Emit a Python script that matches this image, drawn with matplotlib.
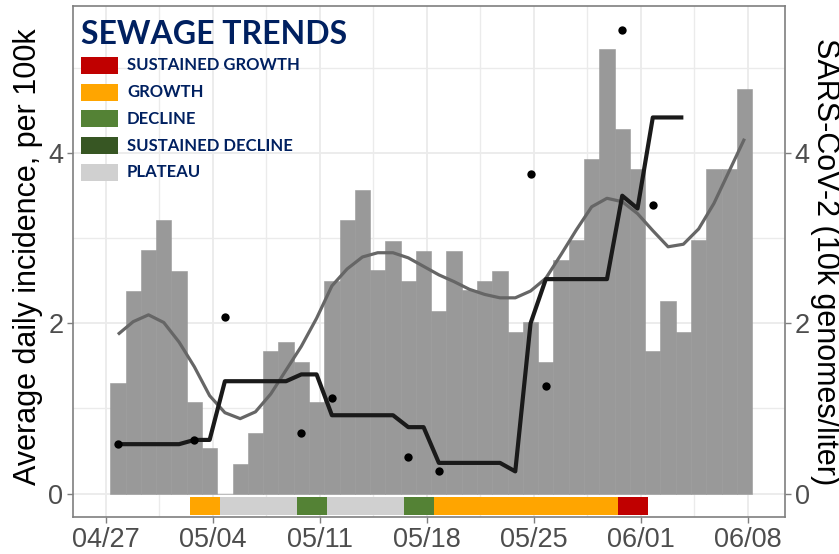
import matplotlib
matplotlib.use("Agg")
import matplotlib.pyplot as plt
import matplotlib.dates as mdates
from matplotlib.patches import Rectangle
import pandas as pd

plt.rcParams["font.family"] = ["Liberation Sans", "DejaVu Sans"]

# --- dados
start_date = "2021-04-27"
tick_dates = ["2021-04-27", "2021-05-04", "2021-05-11", "2021-05-18",
              "2021-05-25", "2021-06-01", "2021-06-08"]

# incidência média diária por 100k (barras)
incidence = [1.30, 2.38, 2.86, 3.21, 2.62, 1.07, 0.53,
             0.00, 0.35, 0.71, 1.67, 1.78, 1.55, 1.07,
             2.50, 3.21, 3.57, 2.63, 2.97, 2.50, 2.85,
             2.14, 2.85, 2.39, 2.50, 2.61, 1.90, 2.02,
             1.55, 2.74, 2.98, 3.93, 5.23, 4.28, 3.81,
             1.67, 2.26, 1.90, 2.98, 3.81, 3.81, 4.76]

# curva suavizada da incidência
incidence_smooth = [1.87, 2.02, 2.10, 2.01, 1.78, 1.49, 1.15, 0.95, 0.88, 0.96,
                    1.17, 1.45, 1.73, 2.06, 2.44, 2.64, 2.78, 2.83, 2.83, 2.77,
                    2.67, 2.57, 2.49, 2.40, 2.34, 2.30, 2.30, 2.38, 2.53, 2.81,
                    3.10, 3.37, 3.47, 3.43, 3.29, 3.09, 2.90, 2.93, 3.11, 3.41,
                    3.79, 4.17]

# amostras de esgoto (pontos): dia desde o início, valor
sample_days = [0, 5, 7, 12, 14, 19, 21, 27, 28, 33, 35]
sample_values = [0.58, 0.63, 2.08, 0.71, 1.12, 0.43, 0.27, 3.75, 1.26, 5.45, 3.39]

# média móvel do esgoto (linha preta), um valor por dia
sewage_avg = [0.58, 0.58, 0.58, 0.58, 0.58, 0.63, 0.63,
              1.32, 1.32, 1.32, 1.32, 1.32, 1.40, 1.40,
              0.92, 0.92, 0.92, 0.92, 0.92, 0.78, 0.78,
              0.36, 0.36, 0.36, 0.36, 0.36, 0.26, 2.00,
              2.52, 2.52, 2.52, 2.52, 2.52, 3.50, 3.35,
              4.42, 4.42, 4.42]

# tendências do esgoto, a partir do dia 5
trend_start_day = 5
trend = (["GROWTH"] * 2 + ["PLATEAU"] * 5 + ["DECLINE"] * 2 + ["PLATEAU"] * 5
         + ["DECLINE"] * 2 + ["GROWTH"] * 12 + ["SUSTAINED GROWTH"] * 2)

trend_labels = ["SUSTAINED GROWTH", "GROWTH", "DECLINE", "SUSTAINED DECLINE", "PLATEAU"]
trend_colors = ["#C00000", "#FFA500", "#548235", "#375623", "#D0D0D0"]
cores = dict(zip(trend_labels, trend_colors))

# --- posições no eixo x
x0 = mdates.date2num(pd.Timestamp(start_date))
offset = 0.8
dias = pd.date_range(start_date, periods=len(incidence), freq="D")
x_bar = mdates.date2num(dias) + offset
x_avg = x_bar[:len(sewage_avg)]
x_pts = [x0 + d + offset for d in sample_days]
x_trend = [x0 + trend_start_day + i + 1.0 for i in range(len(trend))]

fig = plt.figure(figsize=(8.39, 5.54), dpi=100)
ax = fig.add_axes([73 / 839, 37 / 554, 712 / 839, 511 / 554])

ax.bar(x_bar, incidence, width=1.0, color="#999999", edgecolor="#999999",
       linewidth=0.4, zorder=2)
ax.plot(x_bar, incidence_smooth, color="#666666", lw=2.3, zorder=3,
        solid_capstyle="butt")
ax.plot(x_avg, sewage_avg, color="#1A1A1A", lw=3.0, zorder=4,
        solid_capstyle="butt")
ax.scatter(x_pts, sample_values, s=36, color="black", zorder=5, linewidths=0)

# faixa de tendência abaixo das barras
ax.bar(x_trend, [-0.21] * len(trend), bottom=-0.04, width=1.0,
       color=[cores[t] for t in trend], linewidth=0, zorder=2)

ticks = mdates.date2num(pd.to_datetime(tick_dates))
ax.set_xticks(ticks)
ax.set_xticks([t + 3.5 for t in ticks[:-1]] + [ticks[0] - 3.5, ticks[-1] + 3.5], minor=True)
ax.xaxis.set_major_formatter(mdates.DateFormatter("%m/%d"))
ax.set_yticks([0, 2, 4])
ax.set_yticks([1, 3, 5], minor=True)

ax.set_xlim(x0 - 2.14, x0 + 44.45)
ax.set_ylim(-0.276, 5.73)

ax.grid(which="major", color="#EBEBEB", lw=1.3)
ax.grid(which="minor", color="#EBEBEB", lw=1.0)
ax.set_axisbelow(True)

for sp in ax.spines.values():
    sp.set_color("#7F7F7F")
    sp.set_linewidth(1.2)

ax.tick_params(which="major", length=4, width=1.0, color="#7F7F7F",
               labelsize=19.5, labelcolor="#4D4D4D")
ax.tick_params(axis="y", pad=3)
ax.tick_params(axis="x", pad=3)
ax.tick_params(which="minor", length=0)

ax.set_ylabel("Average daily incidence, per 100k", fontsize=22)
ax.yaxis.label.set_va("center")
ax.yaxis.set_label_coords(-0.063, 0.51)

ax2 = ax.twinx()
ax2.set_ylim(ax.get_ylim())
ax2.set_yticks([0, 2, 4])
ax2.tick_params(length=4, width=1.0, color="#7F7F7F", labelsize=19.5,
                labelcolor="#4D4D4D", pad=3)
for sp in ax2.spines.values():
    sp.set_visible(False)
ax2.set_ylabel("SARS-CoV-2 (10k genomes/liter)", fontsize=22, rotation=270)
ax2.yaxis.label.set_va("center")
ax2.yaxis.set_label_coords(1.056, 0.5)

# --- legenda manual (posições em pixels da figura)
W, H = 839, 554
fig.text(81 / W, 1 - 35 / H, "SEWAGE TRENDS", fontsize=23, fontweight="bold",
         color="#002060", family="Lato", va="center")
for i, (lab, cor) in enumerate(zip(trend_labels, trend_colors)):
    cy = 65.5 + i * 26.7
    fig.add_artist(Rectangle((81 / W, 1 - (cy + 8.5) / H), 37 / W, 17 / H,
                             transform=fig.transFigure, facecolor=cor,
                             edgecolor="none"))
    fig.text(127 / W, 1 - cy / H, lab, fontsize=12, fontweight="bold",
             color="#002060", family="Lato", va="center")

fig.savefig("out.png", dpi=100)
plt.close()
